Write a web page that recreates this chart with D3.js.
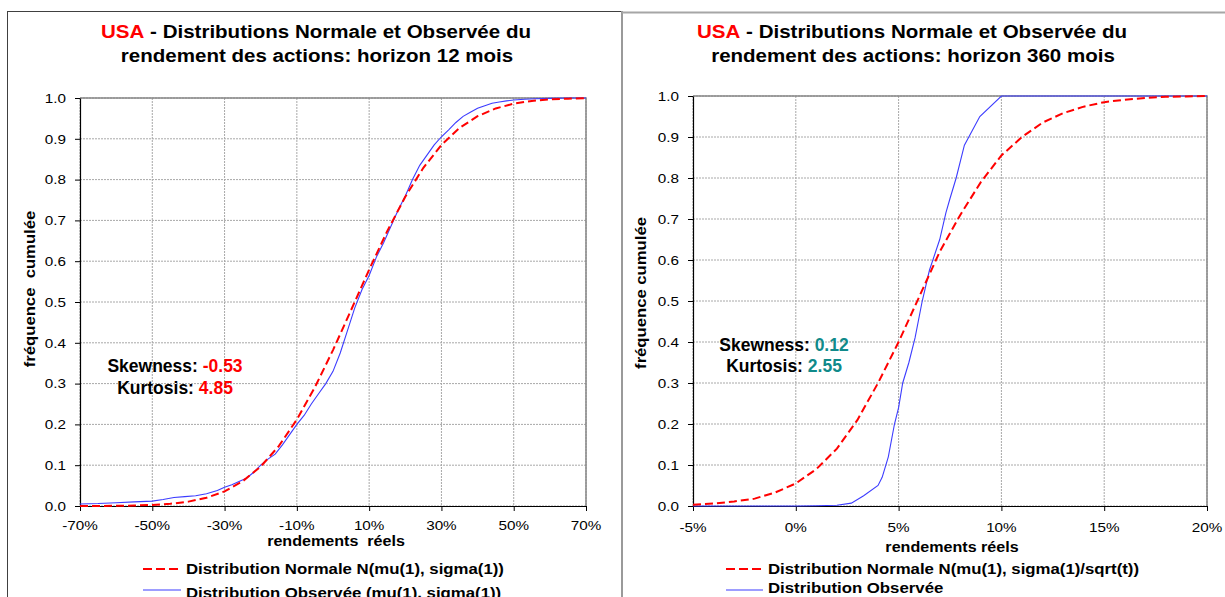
<!DOCTYPE html>
<html><head><meta charset="utf-8">
<script src="https://cdn.jsdelivr.net/npm/d3@7"></script>
<style>
html,body{margin:0;padding:0;background:#fff;overflow:hidden;}
svg{display:block;font-family:"Liberation Sans",Arial,sans-serif;}
</style></head><body>
<svg id="c" width="1225" height="597"></svg>
<script>
// ---------- DATA ----------
const yTickValues = [0, 0.1, 0.2, 0.3, 0.4, 0.5, 0.6, 0.7, 0.8, 0.9, 1.0];
const leftXTicks = [-70, -50, -30, -10, 10, 30, 50, 70];
const rightXTicks = [-5, 0, 5, 10, 15, 20];

// Left chart (12 months) - normal CDF
const leftNormX = [-70,-65,-60,-55,-50,-45,-40,-35,-30,-25,-20,-15,-10,-5,0,5,10,15,20,25,30,35,40,45,50,55,60,65,70];
const leftNormY = [0.0001,0.0002,0.0005,0.0011,0.0026,0.0054,0.0107,0.0202,0.0359,0.0606,0.0968,0.1469,0.2119,0.2912,0.3821,0.4801,0.5793,0.6736,0.7580,0.8289,0.8849,0.9265,0.9554,0.9744,0.9861,0.9929,0.9965,0.9984,0.9993];
// Left chart - observed CDF
const leftObsX = [-70,-65,-60,-55,-50,-47,-44,-41,-38,-35,-32,-30,-28,-26,-24,-22,-20,-18,-16,-14,-12,-10,-8,-6,-4,-2,0,2,4,6,8,10,12,14,16,18,20,22,24,26,28,30,32,34,36,38,40,42,44,46,48,50,53,56,60,65,70];
const leftObsY = [0.005,0.006,0.008,0.010,0.012,0.016,0.021,0.023,0.025,0.030,0.038,0.046,0.052,0.060,0.068,0.082,0.100,0.115,0.127,0.150,0.175,0.200,0.222,0.250,0.275,0.300,0.330,0.375,0.430,0.485,0.530,0.565,0.610,0.645,0.685,0.725,0.760,0.800,0.835,0.860,0.885,0.905,0.922,0.940,0.955,0.965,0.975,0.981,0.987,0.990,0.993,0.995,0.997,0.998,0.999,1.0,1.0];

// Right chart (360 months) - normal CDF
const rightNormX = [-5,-4,-3,-2,-1,0,1,2,3,4,5,6,7,8,9,10,11,12,13,14,15,16,17,18,19,20];
const rightNormY = [0.003,0.006,0.011,0.018,0.033,0.055,0.090,0.140,0.210,0.300,0.400,0.510,0.620,0.710,0.790,0.855,0.900,0.935,0.958,0.974,0.985,0.991,0.995,0.998,0.999,1.0];
// Right chart - observed CDF
const rightObsX = [-5,0,1,2,2.7,3.3,4.0,4.2,4.5,4.8,5.0,5.2,5.5,5.8,6.15,6.5,7.0,7.3,7.5,7.8,8.2,8.95,10.0,15,20];
const rightObsY = [0,0,0.0005,0.002,0.007,0.025,0.050,0.070,0.120,0.200,0.240,0.300,0.350,0.410,0.500,0.575,0.650,0.715,0.750,0.800,0.880,0.950,1.0,1.0,1.0];

const leftStats = ["-0.53", "4.85"];
const rightStats = ["0.12", "2.55"];

// ---------- DRAWING ----------
const svg = d3.select("#c");

function addText(parent, x, y, parts, o) {
  o = Object.assign({size: 13, weight: "normal", anchor: "middle", sx: 1, rotate: 0}, o || {});
  const t = parent.append("text")
    .attr("transform", `translate(${x},${y})` + (o.rotate ? ` rotate(${o.rotate})` : "") + ` scale(${o.sx},1)`)
    .attr("text-anchor", o.anchor)
    .attr("dy", "0.35em")
    .style("font-size", o.size + "px")
    .style("font-weight", o.weight)
    .style("white-space", "pre");
  parts.forEach(p => t.append("tspan").attr("fill", p[1] || "#000").text(p[0]));
  return t;
}

// Panel frames
svg.append("rect").attr("x", 7.5).attr("y", 11.5).attr("width", 614).attr("height", 620)
  .attr("fill", "none").attr("stroke", "#404040").attr("stroke-width", 1);
svg.append("line").attr("x1", 622).attr("x2", 622).attr("y1", 11).attr("y2", 597)
  .attr("stroke", "#9a9a9a").attr("stroke-width", 2);
svg.append("line").attr("x1", 622).attr("x2", 1225).attr("y1", 12.5).attr("y2", 12.5)
  .attr("stroke", "#a6a6a6").attr("stroke-width", 2);

function drawChart(cfg) {
  const g = svg.append("g");
  const x = d3.scaleLinear().domain(cfg.xDomain).range([cfg.x0, cfg.x1]);
  const y = d3.scaleLinear().domain([0, 1]).range([cfg.y1, cfg.y0]);

  // grid
  g.selectAll(".gx").data(cfg.xTicks).join("line")
    .attr("x1", d => x(d)).attr("x2", d => x(d)).attr("y1", cfg.y0).attr("y2", cfg.y1)
    .attr("stroke", "#a8a8a8").attr("stroke-width", 1).attr("stroke-dasharray", "2,1");
  g.selectAll(".gy").data(yTickValues).join("line")
    .attr("x1", cfg.x0).attr("x2", cfg.x1).attr("y1", d => y(d)).attr("y2", d => y(d))
    .attr("stroke", "#a8a8a8").attr("stroke-width", 1).attr("stroke-dasharray", "2,1");

  // top/right border
  g.append("path")
    .attr("d", `M${cfg.x0},${cfg.y0}H${cfg.x1}V${cfg.y1}`)
    .attr("fill", "none").attr("stroke", "#868686").attr("stroke-width", 1.5);

  // axes
  const ax = g.append("g").attr("transform", `translate(0,${cfg.y1})`)
    .call(d3.axisBottom(x).tickValues(cfg.xTicks).tickSize(5).tickSizeOuter(0).tickFormat(""));
  const ay = g.append("g").attr("transform", `translate(${cfg.x0},0)`)
    .call(d3.axisLeft(y).tickValues(yTickValues).tickSize(5).tickSizeOuter(0).tickFormat(""));
  [ax, ay].forEach(a => {
    a.select(".domain").attr("stroke", "#000").attr("stroke-width", 1.2);
    a.selectAll(".tick line").attr("stroke", "#000");
  });

  // tick labels
  cfg.xTicks.forEach(d => addText(g, x(d), cfg.xLabelY, [[d + "%"]], {size: 13.5, sx: 1.13}));
  yTickValues.forEach(d => addText(g, cfg.x0 - 14, y(d), [[d.toFixed(1)]], {size: 13.5, sx: 1.13, anchor: "end"}));

  // series
  const line = d3.line().x(d => x(d[0])).y(d => y(d[1]));
  const normPts = cfg.normX.map((v, i) => [v, cfg.normY[i]]);
  const obsPts = cfg.obsX.map((v, i) => [v, cfg.obsY[i]]);
  g.append("path").attr("d", line(obsPts)).attr("fill", "none")
    .attr("stroke", "#3c3cff").attr("stroke-width", 1.1);
  g.append("path").attr("d", line(normPts)).attr("fill", "none")
    .attr("stroke", "#ff0000").attr("stroke-width", 2).attr("stroke-dasharray", "8,4");

  // titles
  addText(g, cfg.titleX, 32, [["USA", "#ff0000"], [" - Distributions Normale et Observée du"]], {size: 18.5, weight: "bold", sx: 1.11});
  addText(g, cfg.titleX + 1, 56, [[cfg.title2]], {size: 18.5, weight: "bold", sx: 1.11});

  // axis titles
  addText(g, cfg.xTitleX, cfg.xTitleY, [[cfg.xTitle]], {size: 14, weight: "bold", sx: 1.15});
  addText(g, cfg.yTitleX, cfg.yTitleY, [[cfg.yTitle]], {size: 14.5, weight: "bold", sx: 1.15, rotate: -90});

  // stats annotation
  addText(g, cfg.statX, cfg.statY, [["Skewness: "], [cfg.stats[0], cfg.statColor]], {size: 17.5, weight: "bold"});
  addText(g, cfg.statX, cfg.statY + cfg.statGap, [["Kurtosis: "], [cfg.stats[1], cfg.statColor]], {size: 17.5, weight: "bold"});

  // legend
  const L = cfg.legend;
  g.append("line").attr("x1", L.x0).attr("x2", L.x1).attr("y1", L.y1).attr("y2", L.y1)
    .attr("stroke", "#ff0000").attr("stroke-width", 2).attr("stroke-dasharray", "9,4");
  addText(g, L.tx, L.y1, [[L.t1]], {size: 15, weight: "bold", sx: 1.12, anchor: "start"});
  g.append("line").attr("x1", L.x0).attr("x2", L.x1).attr("y1", L.y2).attr("y2", L.y2)
    .attr("stroke", "#3c3cff").attr("stroke-width", 1.1);
  addText(g, L.tx, L.y2t, [[L.t2]], {size: 15, weight: "bold", sx: 1.12, anchor: "start"});
}

drawChart({
  x0: 80, x1: 586, y0: 98, y1: 506, xDomain: [-70, 70], xTicks: leftXTicks, xLabelY: 525,
  normX: leftNormX, normY: leftNormY, obsX: leftObsX, obsY: leftObsY,
  titleX: 316, title2: "rendement des actions: horizon 12 mois",
  xTitle: "rendements  réels", xTitleX: 336, xTitleY: 541,
  yTitle: "fréquence  cumulée", yTitleX: 30, yTitleY: 289,
  stats: leftStats, statColor: "#ff0000", statX: 175, statY: 366, statGap: 22,
  legend: {x0: 143, x1: 181, tx: 186, y1: 569, y2: 590, y2t: 593,
    t1: "Distribution Normale N(mu(1), sigma(1))", t2: "Distribution Observée (mu(1), sigma(1))"}
});

drawChart({
  x0: 693, x1: 1207, y0: 96, y1: 506, xDomain: [-5, 20], xTicks: rightXTicks, xLabelY: 527,
  normX: rightNormX, normY: rightNormY, obsX: rightObsX, obsY: rightObsY,
  titleX: 912, title2: "rendement des actions: horizon 360 mois",
  xTitle: "rendements réels", xTitleX: 952, xTitleY: 547,
  yTitle: "fréquence cumulée", yTitleX: 641, yTitleY: 293,
  stats: rightStats, statColor: "#108a8a", statX: 784, statY: 345, statGap: 21,
  legend: {x0: 726, x1: 763, tx: 768, y1: 569, y2: 590, y2t: 588,
    t1: "Distribution Normale N(mu(1), sigma(1)/sqrt(t))", t2: "Distribution Observée"}
});
</script>
</body></html>
